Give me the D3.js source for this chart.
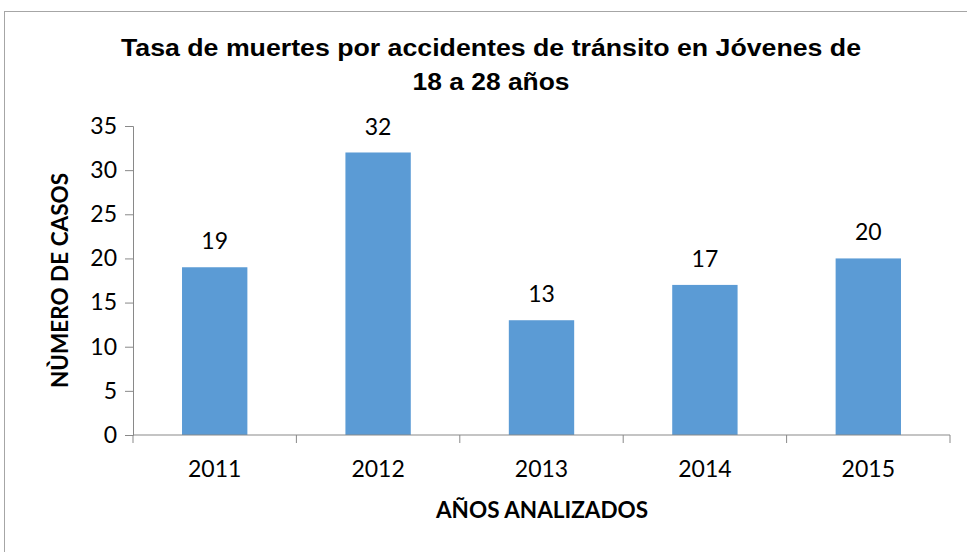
<!DOCTYPE html>
<html>
<head>
<meta charset="utf-8">
<script src="https://cdn.jsdelivr.net/npm/d3@7"></script>
<style>
	body { margin: 0; background: #fff; }
	svg text { fill: #000; }
</style>
</head>
<body>
<svg id="chart" width="967" height="552"></svg>
<script>
var years = ["2011", "2012", "2013", "2014", "2015"];
var casos = [19, 32, 13, 17, 20];
var yTicks = [0, 5, 10, 15, 20, 25, 30, 35];
var titleLines = ["Tasa de muertes por accidentes de tránsito en Jóvenes de", "18 a 28 años"];

var svg = d3.select("#chart"),
	labelFont = "Lato, 'Open Sans', sans-serif",
	axisColour = "#898989";

//outer chart frame
svg.append("rect")
	.attr("x", 4.5).attr("y", 11.5)
	.attr("width", 980).attr("height", 560)
	.attr("fill", "none")
	.attr("stroke", "#a6a6a6");

var margin = {left: 133, right: 17, top: 126, bottom: 117},
	width = 967 - margin.left - margin.right,
	height = 552 - margin.top - margin.bottom;

var x = d3.scaleBand()
	.domain(years)
	.range([0, width])
	.paddingInner(0.6)
	.paddingOuter(0.3);

var y = d3.scaleLinear()
	.domain([0, 35])
	.range([height, 0]);

var g = svg.append("g")
	.attr("transform", "translate(" + margin.left + "," + margin.top + ")");

//bars
g.selectAll(".bar")
	.data(years)
	.enter()
	.append("rect")
		.attr("class", "bar")
		.attr("x", function(d) {return x(d);})
		.attr("y", function(d, i) {return y(casos[i]);})
		.attr("width", x.bandwidth())
		.attr("height", function(d, i) {return y(0) - y(casos[i]);})
		.attr("fill", "#5b9bd5");

//value labels
g.selectAll(".value")
	.data(years)
	.enter()
	.append("text")
		.attr("class", "value")
		.attr("x", function(d) {return x(d) + x.bandwidth() / 2;})
		.attr("y", function(d, i) {return y(casos[i]) - 18;})
		.attr("text-anchor", "middle")
		.style("font-family", labelFont)
		.style("font-size", "23px")
		.text(function(d, i) {return casos[i];});

//y axis
var yAxis = g.append("g")
	.call(d3.axisLeft(y).tickValues(yTicks).tickSize(8).tickPadding(8).tickSizeOuter(8));
yAxis.selectAll("path, line").attr("stroke", axisColour);
yAxis.selectAll("text")
	.style("font-family", labelFont)
	.style("font-size", "23px");

//x axis, ticks between the categories
var step = x.step(),
	xAxis = g.append("g")
		.attr("transform", "translate(0," + height + ")");
xAxis.append("line")
	.attr("x1", 0).attr("x2", width)
	.attr("stroke", axisColour);
xAxis.selectAll(".xtick")
	.data(d3.range(years.length + 1))
	.enter()
	.append("line")
		.attr("class", "xtick")
		.attr("x1", function(i) {return x(years[0]) - x.paddingOuter() * step + i * step;})
		.attr("x2", function(i) {return x(years[0]) - x.paddingOuter() * step + i * step;})
		.attr("y1", 0).attr("y2", 8)
		.attr("stroke", axisColour);
xAxis.selectAll(".xlabel")
	.data(years)
	.enter()
	.append("text")
		.attr("class", "xlabel")
		.attr("x", function(d) {return x(d) + x.bandwidth() / 2;})
		.attr("y", 42)
		.attr("text-anchor", "middle")
		.style("font-family", labelFont)
		.style("font-size", "23px")
		.text(function(d) {return d;});

//axis titles
svg.append("text")
	.attr("x", 542)
	.attr("y", 518)
	.attr("text-anchor", "middle")
	.style("font-family", labelFont)
	.style("font-weight", "bold")
	.style("font-size", "22.5px")
	.text("AÑOS ANALIZADOS");

svg.append("text")
	.attr("transform", "translate(68," + (margin.top + height / 2) + ") rotate(-90)")
	.attr("text-anchor", "middle")
	.style("font-family", labelFont)
	.style("font-weight", "bold")
	.style("font-size", "22.5px")
	.text("NÙMERO DE CASOS");

//title (the original is a bit stretched sideways)
svg.selectAll(".title")
	.data(titleLines)
	.enter()
	.append("text")
		.attr("class", "title")
		.attr("x", 491)
		.attr("y", function(d, i) {return 56 + i * 34;})
		.attr("text-anchor", "middle")
		.attr("textLength", function(d, i) {return i == 0 ? 740 : 157;})
		.attr("lengthAdjust", "spacingAndGlyphs")
		.style("font-family", "'Liberation Sans', Arial, sans-serif")
		.style("font-weight", "bold")
		.style("font-size", "23px")
		.text(function(d) {return d;});
</script>
</body>
</html>
